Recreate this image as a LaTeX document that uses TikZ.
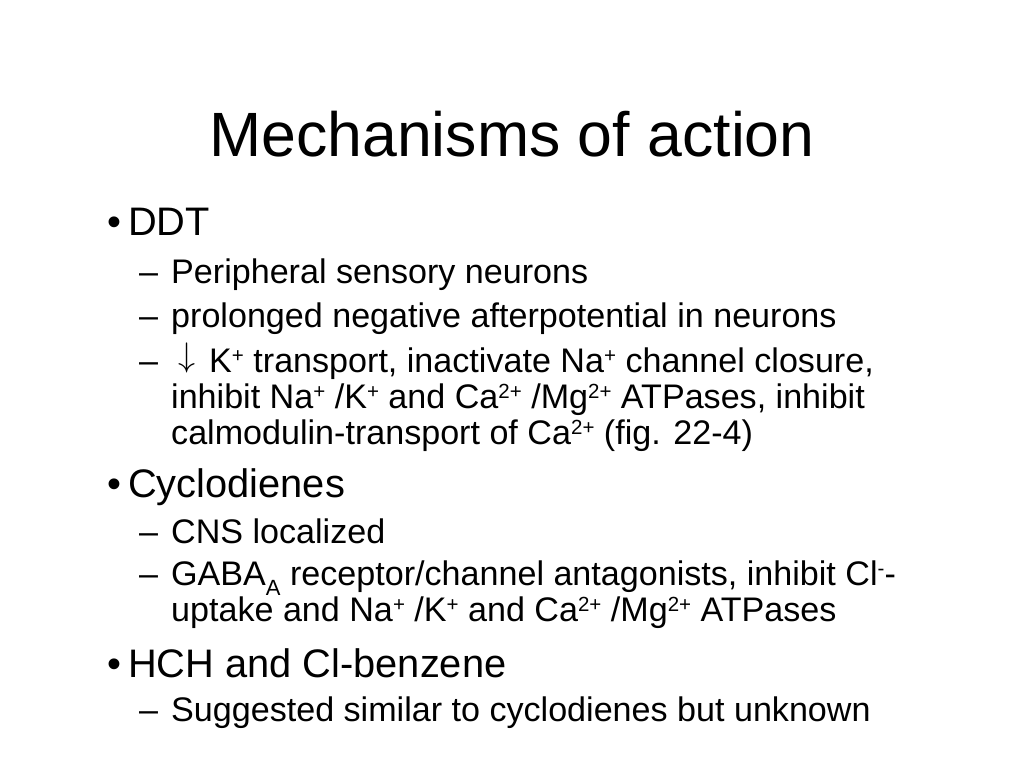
\documentclass[tikz,border=0pt]{standalone}
\usepackage{fontspec}
\setmainfont{Liberation Sans}
\usetikzlibrary{positioning}

\tikzset{
  slidetitle/.style={anchor=base, inner sep=0pt, font=\fontsize{62.6}{70}\selectfont},
  lvlone/.style={anchor=base west, inner sep=0pt, font=\fontsize{39.8}{46}\selectfont},
  lvltwo/.style={anchor=base west, inner sep=0pt, font=\fontsize{34.1}{36}\selectfont},
}
\newcommand{\sups}[1]{\raisebox{10pt}{\fontsize{20.5}{20}\selectfont #1}}
\newcommand{\subs}[1]{\raisebox{-10pt}[0pt][0pt]{\fontsize{22}{22}\selectfont #1}}
\newcommand{\downarr}{\raisebox{5.5pt}{\scalebox{1.37}{$\downarrow$}}}

\begin{document}
\begin{tikzpicture}[x=1pt, y=-1pt]
    \useasboundingbox[fill=white] (0,0) rectangle (1024,768);
    \node[slidetitle] (title) at (512,156) {Mechanisms of action};
    % DDT
    \node[lvlone] (b1) at (107,235) {•};
    \node[lvlone] (ddt) at (128,235) {DDT};
    \node[lvltwo] (d1) at (139,283) {–};
    \node[lvltwo] (ddta) at (171,283) {Peripheral sensory neurons};
    \node[lvltwo] (d2) at (139,327) {–};
    \node[lvltwo] (ddtb) at (171,327) {prolonged negative afterpotential in neurons};
    \node[lvltwo] (d3) at (139,372) {–};
    \node[lvltwo] (ddtc) at (171,372) {\hspace{7pt}\downarr\hspace{14pt}K\sups{+} transport, inactivate Na\sups{+} channel closure,};
    \node[lvltwo] (ddtd) at (171,408) {inhibit Na\sups{+} /K\sups{+} and Ca\sups{2+} /Mg\sups{2+} ATPases, inhibit};
    \node[lvltwo] (ddte) at (171,444) {calmodulin-transport of Ca\sups{2+} (fig. 22-4)};
    % Cyclodienes
    \node[lvlone] (b2) at (107,497) {•};
    \node[lvlone] (cyc) at (128,497) {Cyclodienes};
    \node[lvltwo] (d4) at (139,543) {–};
    \node[lvltwo] (cyca) at (171,543) {CNS localized};
    \node[lvltwo] (d5) at (139,585) {–};
    \node[lvltwo] (cycb) at (171,585) {GABA\subs{A} receptor/channel antagonists, inhibit Cl\sups{-}-};
    \node[lvltwo] (cycc) at (171,621) {uptake and Na\sups{+} /K\sups{+} and Ca\sups{2+} /Mg\sups{2+} ATPases};
    % HCH
    \node[lvlone] (b3) at (107,677) {•};
    \node[lvlone] (hch) at (128,677) {HCH and Cl-benzene};
    \node[lvltwo] (d6) at (139,721) {–};
    \node[lvltwo] (hcha) at (171,721) {Suggested similar to cyclodienes but unknown};
\end{tikzpicture}
\end{document}
